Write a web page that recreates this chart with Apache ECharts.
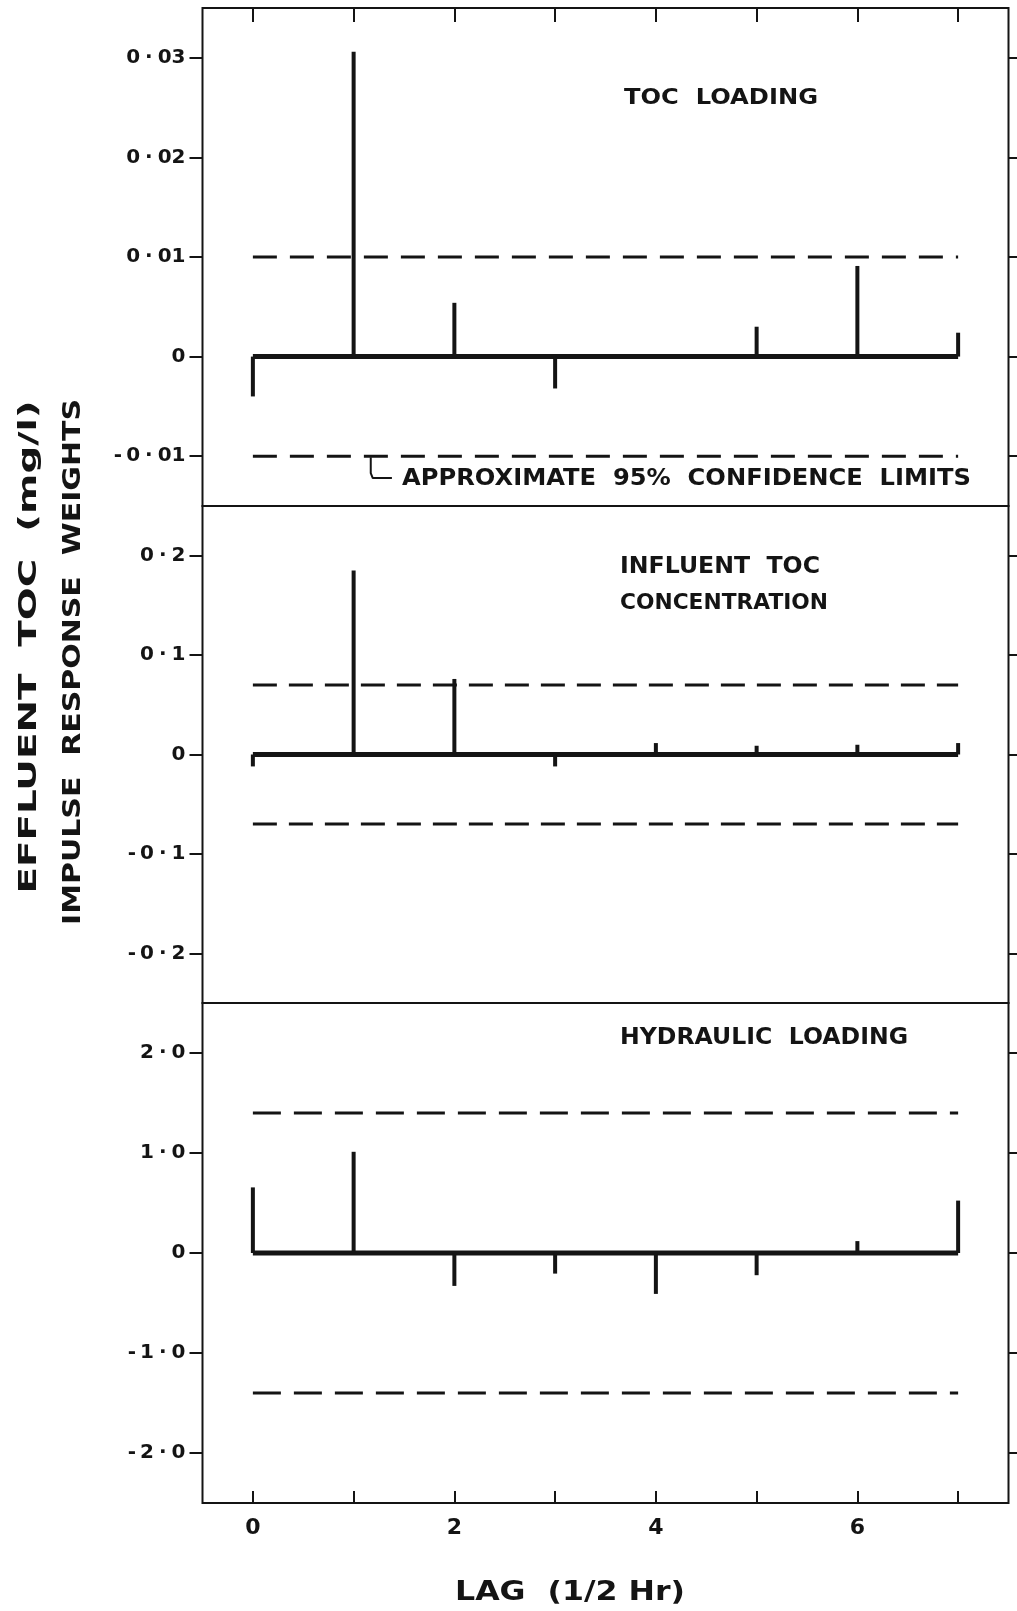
<!DOCTYPE html>
<html>
<head>
<meta charset="utf-8">
<script src="https://cdn.jsdelivr.net/npm/echarts@6/dist/echarts.min.js"></script>
<style>
html,body{margin:0;padding:0;background:#fff;}
#chart{width:1017px;height:1611px;}
</style>
</head>
<body>
<div id="chart"></div>
<script>
// ---- data ----
const lags = [0, 1, 2, 3, 4, 5, 6, 7];
const tocLoading   = [-0.004, 0.0306, 0.0054, -0.0032, 0, 0.003, 0.0091, 0.0024];
const influentToc  = [-0.012, 0.185, 0.076, -0.012, 0.0115, 0.0088, 0.0098, 0.0115];
const hydraulic    = [0.656, 1.012, -0.329, -0.206, -0.409, -0.222, 0.119, 0.524];
const confLimits   = [0.01, 0.07, 1.4];

const yTicks1  = [-0.01, 0, 0.01, 0.02, 0.03];
const yLabels1 = ['-0·01', '0', '0·01', '0·02', '0·03'];
const yTicks2  = [-0.2, -0.1, 0, 0.1, 0.2];
const yLabels2 = ['-0·2', '-0·1', '0', '0·1', '0·2'];
const yTicks3  = [-2, -1, 0, 1, 2];
const yLabels3 = ['-2·0', '-1·0', '0', '1·0', '2·0'];
const xTickVals  = [0, 1, 2, 3, 4, 5, 6, 7];
const xLabelVals = [0, 2, 4, 6];
const xLabels    = ['0', '2', '4', '6'];

const panelTitles = [['TOC  LOADING'], ['INFLUENT  TOC', 'CONCENTRATION'], ['HYDRAULIC  LOADING']];
const confNote = 'APPROXIMATE  95%  CONFIDENCE  LIMITS';
const xName = 'LAG  (1/2 Hr)';
const yName1 = 'EFFLUENT  TOC  (mg/l)';
const yName2 = 'IMPULSE  RESPONSE  WEIGHTS';

// ---- layout / style ----
const INK = '#141414';
const FONT = '"DejaVu Sans", sans-serif';
const GL = 202.5, GW = 806;
const grids = [
  {left: GL, width: GW, top: 8, height: 498},
  {left: GL, width: GW, top: 506, height: 497},
  {left: GL, width: GW, top: 1003, height: 500}
];
const yRanges = [[-0.015, 0.035], [-0.25, 0.25], [-2.5, 2.5]];
const dashes = [[24, 13], [24, 12], [28, 13]];
const LAB = 20;

function labelFmt(ticks, labels) {
  return function (v) {
    const i = ticks.findIndex(t => Math.abs(t - v) < 1e-9);
    if (i < 0) return '';
    return labels[i].replace('-', '{m|-}').replace('·', '{d|·}');
  };
}
const richLab = {
  m: {padding: [0, 4, 0, 0], fontSize: LAB, fontWeight: 'bold', fontFamily: FONT, color: INK},
  d: {padding: [0, 5, 0, 5], fontSize: LAB, fontWeight: 'bold', fontFamily: FONT, color: INK}
};

const allTicks = [yTicks1, yTicks2, yTicks3];
const allLabels = [yLabels1, yLabels2, yLabels3];
const seriesData = [tocLoading, influentToc, hydraulic];

const xAxes = [], yAxes = [], series = [];
for (let g = 0; g < 3; g++) {
  xAxes.push({
    type: 'value', gridIndex: g, min: -0.5, max: 7.5,
    position: g === 2 ? 'bottom' : 'top',
    show: g !== 1,
    axisLine: {show: false, onZero: false},
    splitLine: {show: false},
    axisTick: {show: true, inside: true, length: g === 2 ? 12 : 14,
      customValues: xTickVals, lineStyle: {color: INK, width: 2}},
    axisLabel: {show: g === 2, customValues: xLabelVals, margin: 14,
      fontSize: 22, fontWeight: 'bold', fontFamily: FONT, color: INK,
      formatter: v => { const i = xLabelVals.indexOf(v); return i < 0 ? '' : xLabels[i]; }}
  });
  yAxes.push({
    type: 'value', gridIndex: g, min: yRanges[g][0], max: yRanges[g][1], position: 'left',
    axisLine: {show: false, onZero: false}, splitLine: {show: false},
    axisTick: {show: true, length: 13, customValues: allTicks[g], lineStyle: {color: INK, width: 2}},
    axisLabel: {show: true, customValues: allTicks[g], margin: 17,
      fontSize: LAB, fontWeight: 'bold', fontFamily: FONT, color: INK,
      formatter: labelFmt(allTicks[g], allLabels[g]), rich: richLab}
  });
  yAxes.push({
    type: 'value', gridIndex: g, min: yRanges[g][0], max: yRanges[g][1], position: 'right',
    axisLine: {show: false, onZero: false}, splitLine: {show: false},
    axisTick: {show: true, length: 11, customValues: allTicks[g], lineStyle: {color: INK, width: 2}},
    axisLabel: {show: false}
  });
  const yi = g * 2;
  // zero baseline
  series.push({
    type: 'line', xAxisIndex: g, yAxisIndex: yi, symbol: 'none', silent: true,
    data: [[lags[0], 0], [lags[lags.length - 1], 0]],
    lineStyle: {color: INK, width: 5}, z: 3
  });
  // confidence limits
  [1, -1].forEach(sg => {
    series.push({
      type: 'line', xAxisIndex: g, yAxisIndex: yi, symbol: 'none', silent: true,
      data: [[lags[0], sg * confLimits[g]], [lags[lags.length - 1], sg * confLimits[g]]],
      lineStyle: {color: INK, width: 3, type: dashes[g]}, z: 2
    });
  });
  // impulse stems
  series.push({
    type: 'bar', xAxisIndex: g, yAxisIndex: yi, barWidth: 4,
    data: lags.map((l, i) => [l, seriesData[g][i]]),
    itemStyle: {color: INK}, z: 4
  });
}
// leader from the lower limit line to the note
series.push({
  type: 'line', xAxisIndex: 0, yAxisIndex: 0, symbol: 'none', silent: true,
  data: [[1.17, -0.0101], [1.17, -0.0117], [1.19, -0.0122], [1.38, -0.0122]],
  lineStyle: {color: INK, width: 2}, z: 2
});

// ---- text blocks, stretched to the lettering's width ----
const mctx = document.createElement('canvas').getContext('2d');
function stretched(text, size, weight, targetW) {
  mctx.font = weight + ' ' + size + 'px ' + FONT;
  return targetW / mctx.measureText(text).width;
}
function hText(text, left, cy, size, targetW, weight) {
  weight = weight || 'bold';
  return {type: 'text', x: left, y: cy, scaleX: stretched(text, size, weight, targetW),
    style: {text: text, fontSize: size, fontWeight: weight, fontFamily: FONT, fill: INK,
      textAlign: 'left', textVerticalAlign: 'middle'}};
}
function vText(text, cx, cy, size, targetL, weight) {
  weight = weight || 'bold';
  return {type: 'text', x: cx, y: cy, rotation: Math.PI / 2,
    scaleX: stretched(text, size, weight, targetL),
    style: {text: text, fontSize: size, fontWeight: weight, fontFamily: FONT, fill: INK,
      textAlign: 'center', textVerticalAlign: 'middle'}};
}
const graphics = [
  hText(panelTitles[0][0], 624, 99, 21, 194),
  hText(confNote, 402, 479, 23, 569),
  hText(panelTitles[1][0], 620, 567.5, 23, 200),
  hText(panelTitles[1][1], 620, 603, 22, 208),
  hText(panelTitles[2][0], 620, 1038, 23, 288),
  hText(xName, 455, 1593, 26, 230),
  vText(yName1, 30, 647, 24, 493),
  vText(yName2, 74, 662, 24, 526)
];

const chart = echarts.init(document.getElementById('chart'), null, {renderer: 'canvas'});
chart.setOption({
  backgroundColor: '#ffffff',
  animation: false,
  grid: grids.map(g => Object.assign({show: true, borderColor: INK, borderWidth: 2,
    backgroundColor: 'transparent', containLabel: false}, g)),
  xAxis: xAxes,
  yAxis: yAxes,
  series: series,
  graphic: graphics
});
</script>
</body>
</html>
